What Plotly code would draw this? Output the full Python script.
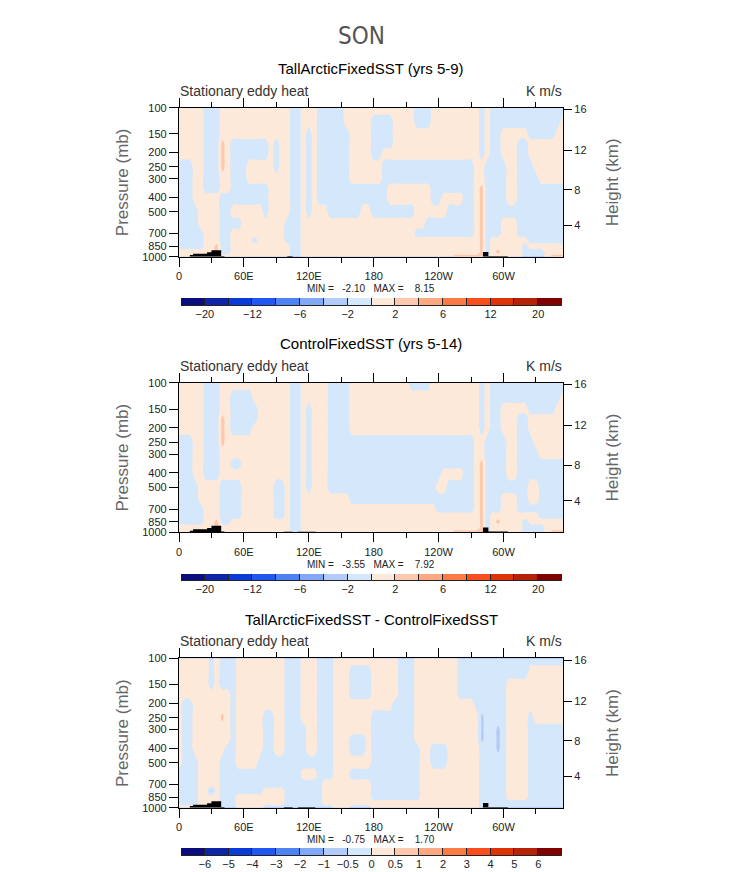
import re
import numpy as np
import plotly.graph_objects as go

# pressure levels (mb) and longitudes of the gridded field
levels = [100, 125, 150, 175, 200, 250, 300, 350, 400, 500, 600, 700, 775, 850, 925, 1000]
lons = list(range(0, 360, 5))

# field, one entry per longitude, run-length coded top (100mb) -> bottom (1000mb)
# b = light blue band, p = light orange band, o = next orange band, B = next blue band
tall_cols = [
    "5p9b2p", "5p9b2p", "5p9b2p", "9p5b2p", "11p3b2p", "8b8p",
    "8b8p", "8b5p2o1p", "3p3o2p7b1p", "8p7b1p", "3p6b1p1b5p", "3p6b1p1b5p",
    "3p6b7p", "3p2b2p2b7p", "3p2b2p2b3p1b3p", "3p2b2p2b7p", "3p2b2p3b6p", "16p",
    "3p3b10p", "16p", "10p3b3p", "16b", "16b", "16p",
    "2p8b6p", "16p", "9b7p", "9b7p", "10b6p", "10b6p",
    "10b6p", "2p8b6p", "7p3b6p", "7p3b6p", "7p2b7p", "7p2b7p",
    "1p4b2p3b6p", "1p4b2p3b6p", "1p3b1p5b6p", "1p3b1p2b2p1b6p", "5p2b2p1b6p", "5p2b2p1b6p",
    "5p2b2p1b6p", "5p2b2p1b6p", "2b3p2b4p1b4p", "2b3p2b4p1b4p", "2b3p2b3p2b4p", "5p4b1p2b4p",
    "5p4b1p2b4p", "5p3b2p2b4p", "5p3b1p3b4p", "5p3b1p3b3p1o", "5p3b1p3b3p1o", "5p7b3p1o",
    "5p7b3p1o", "15p1o", "5b2p9o", "5p11b", "12b4p", "12b2p1o1p",
    "2b3p5b6p", "2b7p1b6p", "2b7p1b6p", "2b1p9b4p", "2b1p9b1p3b", "3b2p8b1p2b",
    "3b3p7b1p2b", "3b4p6b1p2b", "3b4p6b3p", "3b4p6b2p1o", "2b5p6b2p1o", "1b6p6b2p1o",
]
ctrl_cols = [
    "5p9b2p", "5p9b2p", "5p9b2p", "9p5b2p", "11p3b2p", "9b7p",
    "9b7p", "9b4p2o1p", "3p3o3p5b2p", "9p5b2p", "1p4b2p1b1p4b3p", "1p4b2p1b1p4b3p",
    "1p4b11p", "1p4b11p", "2p2b12p", "16p", "16p", "16p",
    "9p4b3p", "9p4b3p", "16p", "16b", "16b", "16p",
    "2p8b6p", "16p", "16p", "16p", "10b6p", "10b6p",
    "10b6p", "10b6p", "5p6b5p", "5p6b5p", "5p6b5p", "5p6b5p",
    "5p6b5p", "5p6b5p", "5p6b5p", "5p6b5p", "5p6b5p", "5p6b5p",
    "5p6b5p", "1b4p6b5p", "1b4p6b5p", "1b4p6b5p", "1b4p6b5p", "5p6b5p",
    "5p4b1p2b4p", "5p3b2p2b4p", "5p3b1p3b4p", "5p3b1p3b3p1o", "5p3b1p3b3p1o", "5p7b3p1o",
    "5p7b3p1o", "15p1o", "5b2p9o", "5p11b", "12b4p", "12b1p1o2p",
    "2b3p5b6p", "2b7p1b6p", "2b7p1b6p", "2b1p9b4p", "2b1p9b1p3b", "3b2p4b2p1b2p2b",
    "3b3p3b2p1b2p2b", "3b4p6b1p2b", "3b4p6b3p", "3b4p6b2p1o", "2b5p6b2p1o", "1b6p6b2p1o",
]
diff_cols = [
    "10p5b1p", "4p11b1p", "4p11b1p", "9p6b1p", "16p", "16p",
    "3b9p1B3p", "16p", "3b2p1o3p7b", "3b5p8b", "16b", "10p3b3p",
    "10p3b3p", "10p3b3p", "10p3b3p", "9p4b3p", "5p7b3p1b", "5p7b3p1b",
    "9p3b3p1b", "9p3b3p1b", "16b", "16b", "16b", "6p4b1p5b",
    "9p1b1p5b", "9p1b1p5b", "16b", "11b4p1b", "11b4p1b", "16p",
    "16p", "16p", "1p3b3p2b1p1b4p1b", "1p3b3p2b1p1b4p1b", "1p3b3p2b1p1b4p1b", "1p3b6p1b4p1b",
    "5p9b2p", "5p9b2p", "5p9b2p", "5p9b2p", "4p10b2p", "14b2p",
    "14b2p", "14b2p", "8p6b2p", "16p", "16p", "8p2b6p",
    "8p2b6p", "8p2b6p", "16p", "16p", "4b12p", "4b12p",
    "4b12p", "5b11p", "5b3B8b", "16b", "16b", "6b3B7b",
    "16b", "2b12p2b", "2b12p2b", "2b12p2b", "2b12p2b", "1b4p11b",
    "1b5p10b", "1b5p10b", "1b5p10b", "1b5p10b", "1b5p10b", "1b5p10b",
]
full_vals = {"b": -1.0, "p": 1.0, "o": 2.6, "B": -2.6}
diff_vals = {"b": -0.25, "p": 0.25, "o": 0.6, "B": -0.6}

# surface (topography) blocks: lon start, lon end, surface pressure
topo1_lon0 = [10, 13, 20, 26, 30, 39, 100, 281, 286]
topo1_lon1 = [13, 20, 26, 30, 39, 42, 105, 286, 304]
topo1_ps = [975, 955, 955, 935, 905, 988, 988, 930, 988]
topo2_lon0 = [10, 13, 20, 26, 30, 39, 97, 110, 281, 286]
topo2_lon1 = [13, 20, 26, 30, 39, 42, 105, 126, 286, 304]
topo2_ps = [975, 955, 955, 935, 905, 988, 990, 990, 930, 988]

# colour bar
cb_colors = ['#0b0c7d', '#0d25a6', '#0a3bd6', '#1f57f0', '#4d82f3', '#81a9f6', '#b3cbf9', '#d5e7fb',
             '#fde9da', '#fcc8ae', '#fba883', '#fb7b47', '#f84e1d', '#de3306', '#b52307', '#7f0000']
full_bounds = [-20, -16, -12, -8, -6, -4, -2, 0, 2, 4, 6, 8, 12, 16, 20]
diff_bounds = [-6, -5, -4, -3, -2, -1, -0.5, 0, 0.5, 1, 2, 3, 4, 5, 6]
full_labels = ['\u221220', '', '\u221212', '', '\u22126', '', '\u22122', '', '2', '', '6', '', '12', '', '20']
diff_labels = ['\u22126', '\u22125', '\u22124', '\u22123', '\u22122', '\u22121', '\u22120.5', '0',
               '0.5', '1', '2', '3', '4', '5', '6']

x_ticks = [0, 60, 120, 180, 240, 300]
x_labels = ['0', '60E', '120E', '180', '120W', '60W']
p_ticks = [100, 150, 200, 250, 300, 400, 500, 700, 850, 1000]
heights_km = [4, 8, 12, 16]

titles = ["TallArcticFixedSST (yrs 5-9)", "ControlFixedSST (yrs 5-14)",
          "TallArcticFixedSST - ControlFixedSST"]
minmax = [("-2.10", "8.15"), ("-3.55", "7.92"), ("-0.75", "1.70")]


def decode(cols, vmap):
    grid = []
    for s in cols:
        vals = []
        for n, c in re.findall(r'(\d+)([A-Za-z])', s):
            vals += [vmap[c]] * int(n)
        vals = (vals + [vals[-1]] * 16)[:16]
        grid.append(vals)
    return np.array(grid).T


def std_pressure(h_km):
    h = h_km * 1000.0
    if h <= 11000:
        return 1013.25 * (1 - 2.25577e-5 * h) ** 5.25588
    return 226.32 * np.exp(-(h - 11000) / 6341.6)


# the page puts the figure 8px in from the corner, so lay out in window pixels
OFF = 8
W, H = 733 - OFF, 872 - OFF
def py(pix):
    return 1 - (pix - OFF) / H
def px(pix):
    return (pix - OFF) / W

plot_x = [px(179), px(563)]
plot_y = [(107.7, 256.7), (382.7, 532.3), (658.3, 807.7)]
cbar_y = [(298, 306), (574, 581), (848, 856)]
font = "Liberation Sans, Arial, sans-serif"

cscale = [[k / 15, c] for k, c in enumerate(cb_colors)]
h_ticks = [std_pressure(h) for h in heights_km]

panels = [
    (tall_cols, full_vals, full_bounds, full_labels, (topo1_lon0, topo1_lon1, topo1_ps)),
    (ctrl_cols, full_vals, full_bounds, full_labels, (topo2_lon0, topo2_lon1, topo2_ps)),
    (diff_cols, diff_vals, diff_bounds, diff_labels, (topo2_lon0, topo2_lon1, topo2_ps)),
]

fig = go.Figure()
layout = {}
annotations = []

for k, (cols, vmap, bounds, labels, topo) in enumerate(panels):
    n = k + 1
    xa, ya, yr = f'x{n}', f'y{n}', f'y{n + 3}'
    xc, yc = f'x{n + 3}', f'y{n + 6}'

    z = decode(cols, vmap)
    zi = np.interp(z, bounds, np.arange(1, 16))
    fig.add_trace(go.Contour(
        x=lons, y=levels, z=zi, xaxis=xa, yaxis=ya,
        colorscale=cscale, autocontour=False,
        contours=dict(start=1, end=15, size=1, coloring='fill', showlines=False),
        line=dict(width=0, smoothing=1.3), showscale=False, hoverinfo='skip'))

    # topography drawn on the height axis (same log-pressure scale)
    tx, ty = [], []
    for a, b, ps in zip(*topo):
        tx += [a, a, b, b, None]
        ty += [1000, ps, ps, 1000, None]
    fig.add_trace(go.Scatter(x=tx, y=ty, xaxis=xa, yaxis=yr, mode='lines', fill='toself',
                             fillcolor='black', line=dict(width=0, color='black'),
                             hoverinfo='skip', showlegend=False))

    fig.add_trace(go.Bar(x=np.arange(16) + 0.5, y=[1] * 16, width=1, xaxis=xc, yaxis=yc,
                         marker=dict(color=cb_colors, line=dict(color='#222', width=1)),
                         hoverinfo='skip', showlegend=False))

    t, b = plot_y[k]
    dom_y = [py(b), py(t)]
    layout[f'xaxis{n}'] = dict(
        domain=plot_x, anchor=ya, range=[0, 355], tickvals=x_ticks, ticktext=x_labels,
        ticks='outside', ticklen=9, tickwidth=1, tickcolor='black', showline=True,
        linecolor='black', linewidth=1.2, mirror='ticks', showgrid=False, zeroline=False,
        tickfont=dict(size=11, color='#222'), ticklabelstandoff=0, automargin=False,
        minor=dict(tickvals=[30, 90, 150, 210, 270, 330], ticks='outside', ticklen=5,
                   tickcolor='black', tickwidth=1))
    layout[f'yaxis{n}'] = dict(
        domain=dom_y, anchor=xa, type='log', range=[3, 2], tickvals=p_ticks,
        ticktext=[str(p) for p in p_ticks], ticks='outside', ticklen=9, tickwidth=1,
        tickcolor='black', showline=True, linecolor='black', linewidth=1.2,
        showgrid=False, zeroline=False, tickfont=dict(size=11, color='#222'), automargin=False)
    layout[f'yaxis{n + 3}'] = dict(
        overlaying=ya, anchor=xa, side='right', type='log', range=[3, 2],
        tickvals=h_ticks, ticktext=[str(h) for h in heights_km], ticks='outside',
        ticklen=8, tickwidth=1, tickcolor='black', showline=True, linecolor='black',
        linewidth=1.2, showgrid=False, zeroline=False, tickfont=dict(size=11, color='#222'),
        automargin=False)

    ct, cb = cbar_y[k]
    layout[f'xaxis{n + 3}'] = dict(
        domain=[px(181), px(562)], anchor=yc, range=[0, 16], tickvals=list(range(1, 16)),
        ticktext=labels, ticks='', showline=False, showgrid=False, zeroline=False,
        tickfont=dict(size=11, color='#222'), fixedrange=True, automargin=False)
    layout[f'yaxis{n + 6}'] = dict(
        domain=[py(cb), py(ct)], anchor=xc, range=[0, 1], visible=False, fixedrange=True)

    mid = (t + b) / 2
    annotations += [
        dict(text=titles[k], x=px(371), y=py(t - 39), font=dict(size=15, color='black')),
        dict(text="Stationary eddy heat", x=px(178), y=py(t - 17), xanchor='left',
             font=dict(size=14, color='#333')),
        dict(text="K m/s", x=px(564), y=py(t - 17), xanchor='right',
             font=dict(size=14, color='#333')),
        dict(text="MIN =\u00a0\u00a0\u00a0" + minmax[k][0] + "\u00a0\u00a0\u00a0MAX =\u00a0\u00a0\u00a0\u00a0" + minmax[k][1],
             x=px(371), y=py(b + 32), font=dict(size=10, color='#222')),
        dict(text="Pressure (mb)", x=px(122), y=py(mid), textangle=-90,
             font=dict(size=17, color='#666')),
        dict(text="Height (km)", x=px(612), y=py(mid), textangle=-90,
             font=dict(size=17, color='#666')),
    ]

annotations.append(dict(text="SON", x=px(361), y=py(36),
                        font=dict(size=24, color='#555',
                                  family="Liberation Sans Narrow, DejaVu Sans Condensed, " + font)))
for a in annotations:
    a.update(xref='paper', yref='paper', showarrow=False)
    a.setdefault('xanchor', 'center')
    a.setdefault('yanchor', 'middle')

fig.update_layout(
    template='none',
    width=W, height=H, autosize=False, margin=dict(l=0, r=0, t=0, b=0, pad=0),
    paper_bgcolor='white', plot_bgcolor='white', showlegend=False, bargap=0,
    font=dict(family=font, color='#222'), annotations=annotations, **layout)

fig.write_html("out.html")
